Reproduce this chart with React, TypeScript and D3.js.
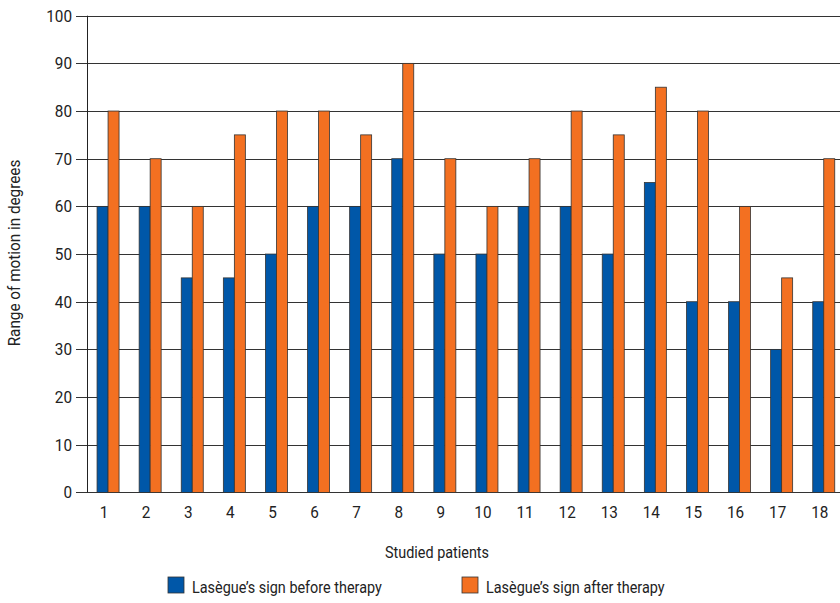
import React from "react";
import * as d3 from "d3";

const patients = ["1","2","3","4","5","6","7","8","9","10","11","12","13","14","15","16","17","18"];
const beforeTherapy = [60,60,45,45,50,60,60,70,50,50,60,60,50,65,40,40,30,40];
const afterTherapy = [80,70,60,75,80,80,75,90,70,60,70,80,75,85,80,60,45,70];
const yTicks = [0,10,20,30,40,50,60,70,80,90,100];
const seriesNames = ["Lasègue’s sign before therapy", "Lasègue’s sign after therapy"];
const seriesColors = ["#0057a8", "#f37021"];

const W = 840, H = 603;
const FONT = "'Roboto', sans-serif";
const SX = 0.9;

function T({ x, y, anchor = "start", size = 16, children }: { x: number; y: number; anchor?: string; size?: number; children: React.ReactNode }) {
  return (
    <text transform={`translate(${x},${y}) scale(${SX},1)`} textAnchor={anchor as any} fontSize={size} fill="#222">
      {children}
    </text>
  );
}

export default function App() {
  const x = d3.scaleBand<string>().domain(patients).range([87, 87 + 18 * 42.1]).paddingInner(0).paddingOuter(0);
  const y = d3.scaleLinear().domain([0, 100]).range([492.4, 15.7]);
  const barW = 11;
  const groupW = barW * 2;
  const series = [beforeTherapy, afterTherapy];

  return (
    <svg width={W} height={H} style={{ position: "absolute", left: 0, top: 0, background: "#fff" }} fontFamily={FONT}>
      {yTicks.map((t) => (
        <g key={t}>
          <line x1={76} x2={W} y1={Math.round(y(t)) + 0.5} y2={Math.round(y(t)) + 0.5} stroke="#333" strokeWidth={1} />
          <T x={72} y={y(t) + 6} anchor="end" size={17}>{t}</T>
        </g>
      ))}
      <line x1={87.5} x2={87.5} y1={y(100)} y2={y(0)} stroke="#222" strokeWidth={1} />
      {patients.map((p, i) => {
        const cx = (x(p) as number) + x.bandwidth() / 2;
        return (
          <g key={p}>
            {series.map((s, k) => (
              <rect
                key={k}
                x={cx - groupW / 2 + k * barW}
                y={y(s[i])}
                width={barW}
                height={y(0) - y(s[i])}
                fill={seriesColors[k]}
                stroke="#333"
                strokeWidth={0.8}
              />
            ))}
            <T x={cx - 4} y={518} anchor="middle" size={17}>{p}</T>
          </g>
        );
      })}
      <text transform={`translate(20,253) rotate(-90) scale(${SX},1)`} textAnchor="middle" fontSize={17} fill="#222">Range of motion in degrees</text>
      <T x={437} y={558} anchor="middle" size={16}>Studied patients</T>
      {seriesNames.map((n, k) => {
        const lx = k === 0 ? 168 : 462;
        return (
          <g key={n}>
            <rect x={lx} y={577} width={16} height={16} fill={seriesColors[k]} stroke="#333" strokeWidth={0.8} />
            <T x={lx + 24} y={593} size={16}>{n}</T>
          </g>
        );
      })}
    </svg>
  );
}
